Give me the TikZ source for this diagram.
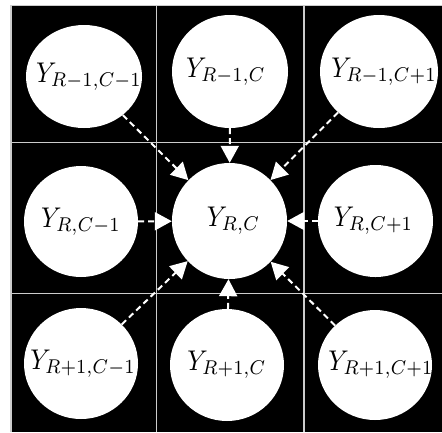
\documentclass[tikz,border=0pt]{standalone}
\usetikzlibrary{arrows.meta,shapes.geometric}
\newcommand{\celltext}[1]{\scalebox{2.55}[2.85]{$#1$}}
\begin{document}
\begin{tikzpicture}[x=1pt,y=-1pt,
  cell/.style={ellipse, fill=white, inner sep=0pt},
  txt/.style={inner sep=0pt},
  link/.style={white, line width=2pt, dash pattern=on 6pt off 4pt, -{Triangle[length=17pt,width=18pt]}},
  gridline/.style={draw=white!80!black, line width=1.5pt}]
\useasboundingbox (0,0) rectangle (442,432);
\fill[black] (11,5.5) rectangle (442,432);
\draw[gridline] (11,432) -- (11,5.5) -- (442,5.5);
\draw[gridline] (156.5,5.5) -- (156.5,432);
\draw[gridline] (304,5.5) -- (304,432);
\draw[gridline] (11,142.5) -- (442,142.5);
\draw[gridline] (11,293.5) -- (442,293.5);
\node[cell, minimum width=116pt, minimum height=103pt, label={[txt,xshift=5pt]center:\celltext{Y_{R-1,C-1}}}] (tl) at (84,76.5) {};
\node[cell, minimum width=116pt, minimum height=113pt, label={[txt,xshift=-4pt]center:\celltext{Y_{R-1,C}}}] (tm) at (230,71.5) {};
\node[cell, minimum width=118pt, minimum height=113pt, label={[txt,xshift=5pt]center:\celltext{Y_{R-1,C+1}}}] (tr) at (379,71.5) {};
\node[cell, minimum width=114pt, minimum height=111pt, label={[txt]center:\celltext{Y_{R,C-1}}}] (ml) at (81,221.5) {};
\node[cell, minimum width=115pt, minimum height=116pt, label={[txt,xshift=4pt]center:\celltext{Y_{R,C}}}] (c) at (229.5,221) {};
\node[cell, minimum width=115pt, minimum height=112pt, label={[txt,xshift=-2pt]center:\celltext{Y_{R,C+1}}}] (mr) at (375.5,221) {};
\node[cell, minimum width=114pt, minimum height=111pt, label={[txt,xshift=2pt]center:\celltext{Y_{R+1,C-1}}}] (bl) at (81,363.5) {};
\node[cell, minimum width=114pt, minimum height=112pt, label={[txt]center:\celltext{Y_{R+1,C}}}] (bm) at (227,365) {};
\node[cell, minimum width=114pt, minimum height=110pt, label={[txt,xshift=6pt]center:\celltext{Y_{R+1,C+1}}}] (br) at (375,365) {};
\foreach \n in {tl,tm,tr,ml,mr,bl,bm,br}
  \draw[link] (\n) -- (c);
\end{tikzpicture}
\end{document}
